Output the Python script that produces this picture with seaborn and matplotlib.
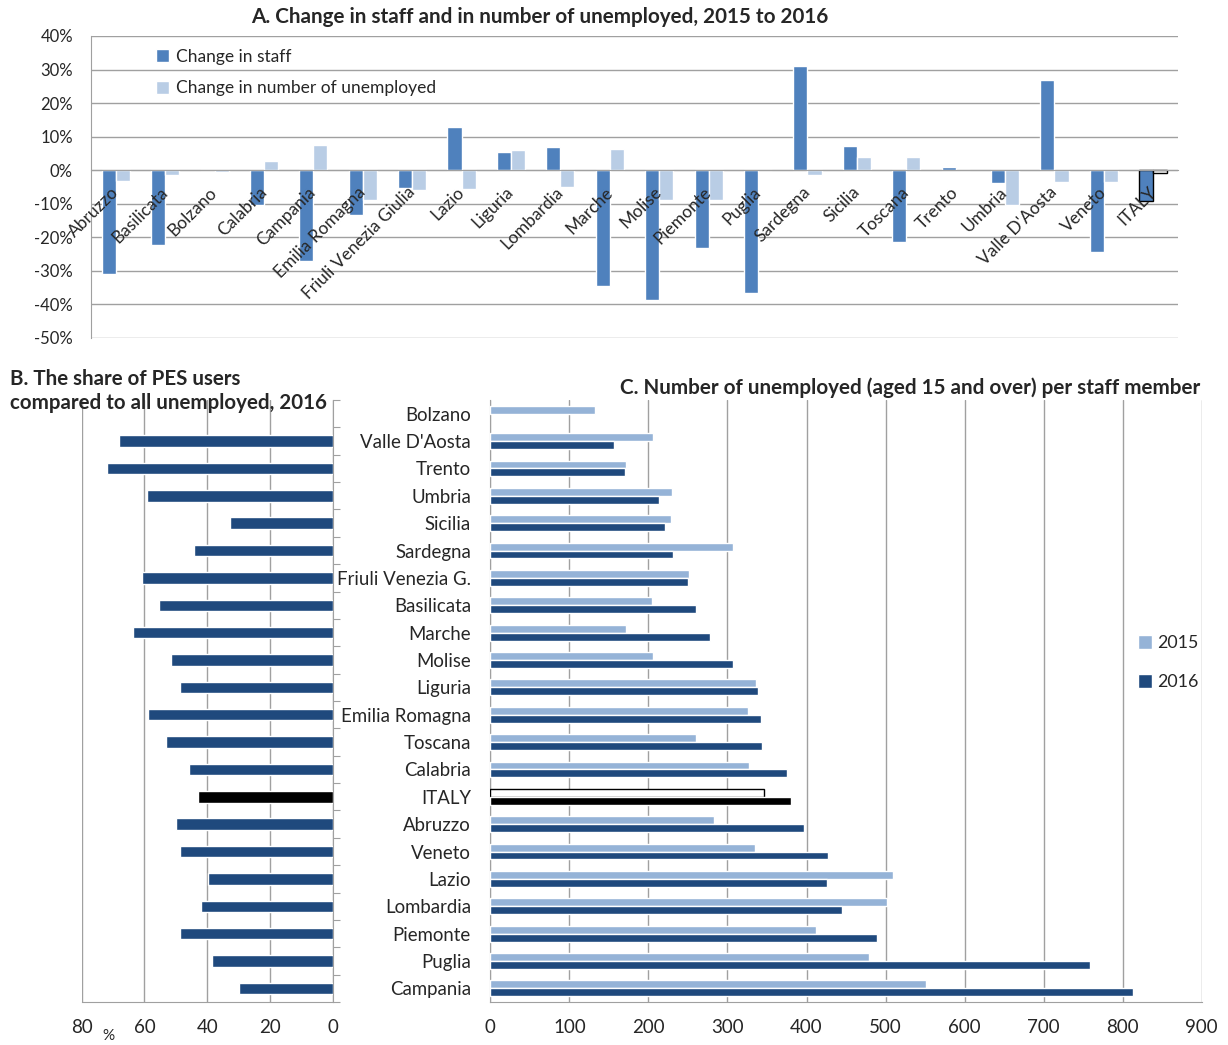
import numpy as np
import pandas as pd
import matplotlib
matplotlib.use('Agg')
import matplotlib.pyplot as plt
import seaborn as sns
from matplotlib.ticker import FixedLocator

sns.set_style('white')
plt.rcParams['font.family'] = ['Lato', 'DejaVu Sans']

# --- data -------------------------------------------------------------
regions_a = ['Abruzzo', 'Basilicata', 'Bolzano', 'Calabria', 'Campania', 'Emilia Romagna',
             'Friuli Venezia Giulia', 'Lazio', 'Liguria', 'Lombardia', 'Marche', 'Molise',
             'Piemonte', 'Puglia', 'Sardegna', 'Sicilia', 'Toscana', 'Trento', 'Umbria',
             "Valle D'Aosta", 'Veneto', 'ITALY']
staff_change = [-30.9, -22.4, 0.0, -10.5, -27.1, -13.4, -5.3, 13.0, 5.3, 6.8, -34.5,
                -38.6, -23.2, -36.6, 31.0, 7.3, -21.3, 1.0, -3.9, 26.9, -24.5, -9.3]
unemp_change = [-3.3, -1.5, -0.6, 2.7, 7.4, -8.8, -5.8, -5.5, 6.1, -5.0, 6.4,
                -8.8, -8.8, 0.0, -1.3, 3.9, 4.0, 0.0, -10.5, -3.4, -3.6, -0.9]

regions_c = ['Bolzano', "Valle D'Aosta", 'Trento', 'Umbria', 'Sicilia', 'Sardegna',
             'Friuli Venezia G.', 'Basilicata', 'Marche', 'Molise', 'Liguria',
             'Emilia Romagna', 'Toscana', 'Calabria', 'ITALY', 'Abruzzo', 'Veneto',
             'Lazio', 'Lombardia', 'Piemonte', 'Puglia', 'Campania']
pes_share = [np.nan, 68.0, 71.8, 59.1, 32.7, 44.2, 60.7, 55.2, 63.6, 51.5, 48.7,
             58.8, 53.2, 45.7, 42.9, 49.8, 48.7, 39.8, 42.0, 48.7, 38.6, 29.7]
per_staff_2015 = [131.8, 205.9, 172.0, 229.2, 228.4, 306.4, 250.8, 204.2, 171.2, 206.4, 335.6,
                  325.4, 259.7, 327.1, 345.8, 283.1, 334.3, 509.3, 501.5, 412.0, 479.5, 551.6]
per_staff_2016 = [np.nan, 156.8, 170.3, 213.6, 221.2, 230.5, 250.0, 259.7, 278.4, 306.4, 338.1,
                  342.4, 343.2, 375.4, 380.5, 397.0, 427.1, 425.6, 445.4, 489.7, 758.3, 813.1]

series_a = ['Change in staff', 'Change in number of unemployed']
years = ['2015', '2016']

df_a = pd.DataFrame({'region': regions_a, series_a[0]: staff_change, series_a[1]: unemp_change})
df_a = df_a.melt(id_vars='region', var_name='series', value_name='value')
df_b = pd.DataFrame({'region': regions_c, 'share': pes_share})
df_c = pd.DataFrame({'region': regions_c, years[0]: per_staff_2015, years[1]: per_staff_2016})
df_c = df_c.melt(id_vars='region', var_name='year', value_name='value')

grid_col = '#a0a0a0'
light_blue = '#b9cde5'
mid_blue = '#4f81bd'
c15 = '#95b3d7'
c16 = '#1f497d'

fig = plt.figure(figsize=(12.28, 10.45), dpi=100)
ax_a = fig.add_axes([0.0741, 0.6766, 0.8852, 0.289])
ax_b = fig.add_axes([0.0665, 0.0411, 0.2044, 0.5761])
ax_c = fig.add_axes([0.3993, 0.0411, 0.5793, 0.5761])

# --- A ----------------------------------------------------------------
sns.barplot(data=df_a, x='region', y='value', hue='series', order=regions_a,
            hue_order=series_a, palette={series_a[0]: mid_blue, series_a[1]: light_blue},
            width=0.57, saturation=1, ax=ax_a)
it = regions_a.index('ITALY')
for k, cont in enumerate(ax_a.containers):
    for bar in cont:
        if round(bar.get_x() + bar.get_width() / 2) == it:
            bar.set_edgecolor('black')
            bar.set_linewidth(1)
            if k == 1:
                bar.set_facecolor('white')
ax_a.set_xlim(-0.5, len(regions_a) - 0.5)
ax_a.set_ylim(-50, 40)
ax_a.set_yticks(np.arange(-50, 41, 10))
ax_a.set_yticklabels([f'{v}%' for v in range(-50, 41, 10)], fontsize=12)
# gridlines behind the bars, tick labels in front of them
for v in range(-50, 41, 10):
    ax_a.axhline(v, color=grid_col, lw=1, zorder=0)
ax_a.set_axisbelow(False)
ax_a.spines['bottom'].set_position(('data', 0))
for s in ['top', 'right']:
    ax_a.spines[s].set_visible(False)
for s in ['left', 'bottom']:
    ax_a.spines[s].set_color(grid_col)
ax_a.set_xticks(range(len(regions_a)))
ax_a.set_xticklabels(regions_a, rotation=45, ha='right', va='center',
                     rotation_mode='anchor', fontsize=12.5)
ax_a.xaxis.set_minor_locator(FixedLocator(np.arange(-0.5, len(regions_a), 1)))
ax_a.tick_params(axis='x', which='major', length=0, pad=14)
ax_a.tick_params(axis='x', which='minor', length=5, color=grid_col, direction='out')
ax_a.tick_params(axis='y', length=5, color=grid_col, direction='out', pad=8)
ax_a.set_xlabel('')
ax_a.set_ylabel('')
ax_a.legend(loc='upper left', bbox_to_anchor=(0.045, 1.01), frameon=False, fontsize=12.5,
            handlelength=0.8, handleheight=0.8, handletextpad=0.4, labelspacing=0.9)

# --- B ----------------------------------------------------------------
sns.barplot(data=df_b, y='region', x='share', order=regions_c, color=c16,
            width=0.42, saturation=1, ax=ax_b, zorder=3)
ic = regions_c.index('ITALY')
for bar in ax_b.patches:
    if round(bar.get_y() + bar.get_height() / 2) == ic:
        bar.set_facecolor('black')
ax_b.set_xlim(80, 0)
ax_b.set_ylim(len(regions_c) - 0.5, -0.5)
ax_b.set_xticks([80, 60, 40, 20, 0])
ax_b.tick_params(axis='x', labelsize=13.5, length=4, color=grid_col, pad=8)
ax_b.xaxis.grid(True, color=grid_col, lw=1)
ax_b.set_axisbelow(True)
ax_b.yaxis.tick_right()
ax_b.set_yticks(np.arange(-0.5, len(regions_c), 1))
ax_b.set_yticklabels([])
ax_b.tick_params(axis='y', length=5, color=grid_col, direction='out')
for s in ['top', 'left']:
    ax_b.spines[s].set_visible(False)
for s in ['right', 'bottom']:
    ax_b.spines[s].set_color(grid_col)
ax_b.set_xlabel('')
ax_b.set_ylabel('')

# --- C ----------------------------------------------------------------
sns.barplot(data=df_c, y='region', x='value', hue='year', order=regions_c, hue_order=years,
            palette={years[0]: c15, years[1]: c16}, width=0.58, saturation=1,
            ax=ax_c, zorder=3)
for k, cont in enumerate(ax_c.containers):
    for bar in cont:
        if round(bar.get_y() + bar.get_height() / 2) == ic:
            if k == 0:
                bar.set_facecolor('white')
                bar.set_edgecolor('black')
                bar.set_linewidth(1)
            else:
                bar.set_facecolor('black')
ax_c.set_xlim(0, 900)
ax_c.set_ylim(len(regions_c) - 0.5, -0.5)
ax_c.set_xticks(np.arange(0, 901, 100))
ax_c.tick_params(axis='x', labelsize=13.5, length=4, color=grid_col, pad=8)
ax_c.xaxis.grid(True, color=grid_col, lw=1)
ax_c.set_axisbelow(True)
ax_c.set_yticks(range(len(regions_c)))
ax_c.set_yticklabels(regions_c, fontsize=13.4)
ax_c.yaxis.set_minor_locator(FixedLocator(np.arange(-0.5, len(regions_c), 1)))
ax_c.tick_params(axis='y', which='major', length=0, pad=14)
ax_c.tick_params(axis='y', which='minor', length=5, color=grid_col, direction='out')
for s in ['top', 'right']:
    ax_c.spines[s].set_visible(False)
for s in ['left', 'bottom']:
    ax_c.spines[s].set_color(grid_col)
ax_c.set_xlabel('')
ax_c.set_ylabel('')
ax_c.legend(loc='center left', bbox_to_anchor=(0.888, 0.564), frameon=False, fontsize=12.8,
            handlelength=0.8, handleheight=0.8, handletextpad=0.3, labelspacing=1.3)

# --- titles -----------------------------------------------------------
fig.text(540 / 1228, 1 - 17 / 1045, 'A. Change in staff and in number of unemployed, 2015 to 2016',
         ha='center', va='center', fontsize=14.9, fontweight='bold')
fig.text(10 / 1228, 1 - 391 / 1045, 'B. The share of PES users\ncompared to all unemployed, 2016',
         ha='left', va='center', fontsize=14.8, fontweight='bold', linespacing=1.2)
fig.text(1200 / 1228, 1 - 388 / 1045, 'C. Number of unemployed (aged 15 and over) per staff member',
         ha='right', va='center', fontsize=14.9, fontweight='bold')
fig.text(108 / 1228, 1 - 1036 / 1045, '%', ha='center', va='center', fontsize=11)

fig.savefig('out.png', dpi=100)
